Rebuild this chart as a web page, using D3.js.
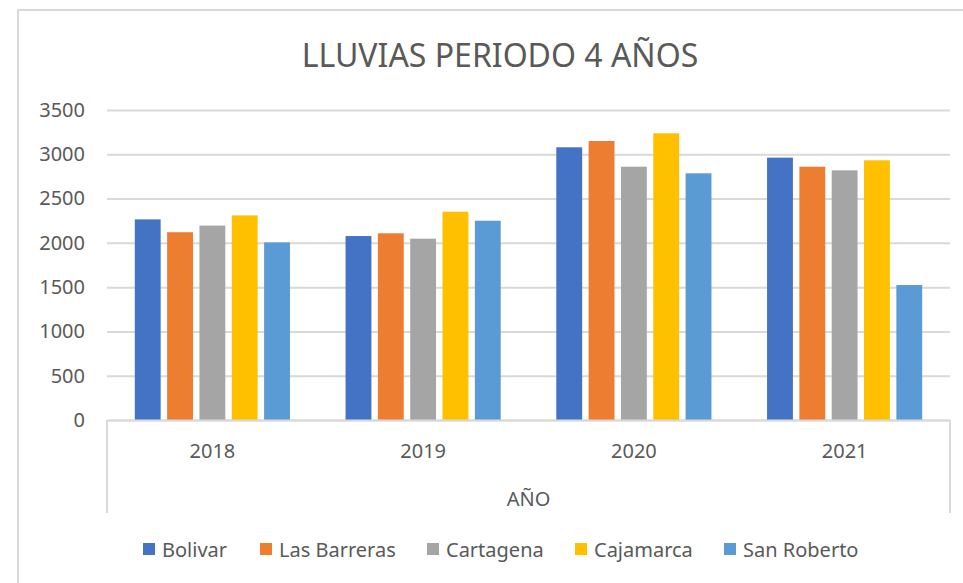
<!DOCTYPE html>
<html>
<head>
<meta charset="utf-8">
<script src="https://cdn.jsdelivr.net/npm/d3@7"></script>
<style>
  body { margin: 0; background: #fff; }
  text { font-family: "Noto Sans", sans-serif; fill: #595959; }
</style>
</head>
<body>
<div id="chart"></div>
<script>
// Data
var years = ["2018", "2019", "2020", "2021"];
var regions = ["Bolivar", "Las Barreras", "Cartagena", "Cajamarca", "San Roberto"];
var bolivar = [2265, 2077, 3079, 2962];
var lasBarreras = [2120, 2108, 3150, 2860];
var cartagena = [2195, 2047, 2860, 2819];
var cajamarca = [2310, 2352, 3237, 2932];
var sanRoberto = [2005, 2250, 2785, 1524];
var yTicks = [0, 500, 1000, 1500, 2000, 2500, 3000, 3500];
var colors = ["#4472C4", "#ED7D31", "#A5A5A5", "#FFC000", "#5B9BD5"];

var seriesValues = [bolivar, lasBarreras, cartagena, cajamarca, sanRoberto];

// one row per year, like the table the chart came from
var dataset = years.map(function(y, i) {
    var row = { year: y };
    regions.forEach(function(r, j) { row[r] = seriesValues[j][i]; });
    return row;
});

var w = 963;
var h = 583;
var plotLeft = 107, plotRight = 950, plotTop = 110, plotBottom = 420;

var svg = d3.select("#chart")
    .append("svg")
    .attr("width", w)
    .attr("height", h);

// chart border (runs past the right/bottom edge of the screenshot)
svg.append("rect")
    .attr("x", 18)
    .attr("y", 10)
    .attr("width", 964)
    .attr("height", 600)
    .attr("fill", "none")
    .attr("stroke", "#d9d9d9")
    .attr("stroke-width", 2);

// Scales
var x0 = d3.scaleBand()
    .domain(years)
    .range([plotLeft, plotRight])
    .padding(0);

var x1 = d3.scaleBand()
    .domain(regions)
    .range([0, x0.bandwidth()])
    .paddingInner(0.2)
    .paddingOuter(0.86);

var yScale = d3.scaleLinear()
    .domain([0, 3500])
    .range([plotBottom, plotTop]);

var color = d3.scaleOrdinal()
    .domain(regions)
    .range(colors);

// Gridlines + y labels
var yAxis = svg.append("g")
    .attr("transform", `translate(${plotLeft},0)`)
    .call(d3.axisLeft(yScale)
        .tickValues(yTicks)
        .tickFormat(d => String(d))
        .tickSize(-(plotRight - plotLeft))
        .tickPadding(22));

yAxis.select(".domain").remove();
yAxis.selectAll(".tick line")
    .attr("stroke", "#d9d9d9")
    .attr("stroke-width", 2);
yAxis.selectAll(".tick text")
    .style("font-size", "20px")
    .attr("fill", "#595959");

// Bars
var groups = svg.selectAll("g.year")
    .data(dataset)
    .enter()
    .append("g")
    .attr("class", "year")
    .attr("transform", d => `translate(${x0(d.year)},0)`);

groups.selectAll("rect")
    .data(d => regions.map(r => ({ key: r, value: d[r] })))
    .enter()
    .append("rect")
    .attr("x", d => x1(d.key))
    .attr("y", d => yScale(d.value))
    .attr("width", x1.bandwidth())
    .attr("height", d => yScale(0) - yScale(d.value))
    .attr("fill", d => color(d.key));

// X axis line and category labels
var xAxis = svg.append("g")
    .attr("transform", `translate(0,${plotBottom})`)
    .call(d3.axisBottom(x0).tickSize(0).tickPadding(24));

xAxis.select(".domain")
    .attr("stroke", "#d9d9d9")
    .attr("stroke-width", 2);
xAxis.selectAll(".tick text")
    .style("font-size", "20px")
    .attr("fill", "#595959");

// outer bracket lines of the category axis
svg.selectAll("line.bracket")
    .data([plotLeft, plotRight])
    .enter()
    .append("line")
    .attr("class", "bracket")
    .attr("x1", d => d)
    .attr("x2", d => d)
    .attr("y1", plotBottom)
    .attr("y2", 513)
    .attr("stroke", "#d9d9d9")
    .attr("stroke-width", 2);

// Axis title
svg.append("text")
    .attr("x", (plotLeft + plotRight) / 2)
    .attr("y", 506)
    .attr("text-anchor", "middle")
    .style("font-size", "20px")
    .text("AÑO");

// Chart title
svg.append("text")
    .attr("x", 500)
    .attr("y", 67)
    .attr("text-anchor", "middle")
    .style("font-size", "32px")
    .text("LLUVIAS PERIODO 4 AÑOS");

// Legend
var legendX = [143, 260, 427, 575, 724];
var legend = svg.selectAll("g.legend")
    .data(regions)
    .enter()
    .append("g")
    .attr("class", "legend")
    .attr("transform", (d, i) => `translate(${legendX[i]},543)`);

legend.append("rect")
    .attr("width", 12)
    .attr("height", 12)
    .attr("fill", d => color(d));

legend.append("text")
    .attr("x", 19)
    .attr("y", 14)
    .style("font-size", "20px")
    .text(d => d);
</script>
</body>
</html>
